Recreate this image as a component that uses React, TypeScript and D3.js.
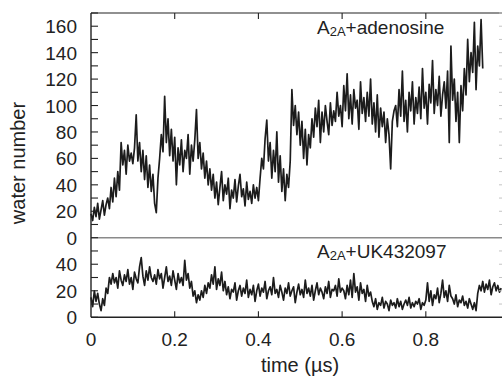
import React, { useEffect, useRef } from "react";
import * as d3 from "d3";

// time step between samples (µs)
const timeStep = 0.004;

// A2A+adenosine water count, one value per time step
const adenosineWater = [
  18, 13, 23, 16, 26, 14, 21, 28, 17, 25,
  30, 22, 38, 27, 45, 31, 50, 36,
  72, 55, 66, 48, 70, 58, 64,
  56, 68, 93, 58, 72, 50, 66,
  44, 62, 38, 55,
  35, 48, 26, 19,
  45, 60, 78, 65, 107,
  72, 90, 62, 82, 58, 76,
  40, 68, 55, 74, 50, 66,
  60, 78, 48, 70, 58,
  74, 97, 60, 72, 52,
  64, 45, 58, 40, 52, 36,
  48, 30, 42, 25, 38, 50, 28, 40, 33, 45, 22, 36, 30, 44, 27, 39, 48, 31, 37, 24, 42, 29, 35, 26, 40, 30, 38, 28,
  45, 60, 52, 75, 89,
  58, 72, 45, 66, 50, 80, 42, 62,
  35, 52, 28, 48, 38, 58,
  112, 85, 100, 78, 95,
  70, 88, 60, 82, 55, 78, 68, 90,
  76, 98, 84, 104, 72, 95, 80, 100, 88, 78, 102, 85, 96,
  88, 110, 92, 100, 84, 115, 96, 124, 90, 108, 86, 112, 98, 104, 82, 118, 94, 106, 88, 110,
  92, 120, 86, 102, 80, 108, 76, 98, 84, 95, 72, 90, 78,
  52, 88, 96,
  100, 84, 112, 92, 126, 88, 104, 80, 110, 96, 118, 86, 106, 94, 114,
  90, 128, 98, 110, 86, 116, 102, 134, 94, 112, 100, 122, 92, 108,
  118, 98, 126, 72, 145, 104, 120, 88, 110,
  72, 115, 96, 128, 108,
  150, 118, 140, 125, 163, 112, 145, 130, 165, 128,
];

// A2A+UK432097 water count
const ukWater = [
  15, 8, 20, 12, 18, 10,
  5, 14, 9,
  22, 18, 30, 25,
  33, 26, 30, 22, 35, 28, 24, 32, 27, 36, 25, 30, 21, 34, 29, 26, 38, 45, 31, 24,
  35, 28, 38, 30, 27,
  32, 25, 36, 29, 33, 22, 30, 38, 27, 31, 24, 35, 28, 21, 33, 26, 30, 24,
  43,
  28, 33, 22, 27,
  16, 20, 11, 17, 13,
  20, 15, 24, 18, 26,
  22, 32, 25, 38, 21, 29, 24, 34, 20, 27,
  17, 23, 14, 21, 19, 26, 13, 20, 24, 16,
  22, 18, 28, 15, 21, 17, 24, 12, 20, 25,
  16, 22, 19, 27, 14, 20, 23, 17, 30, 18,
  21, 15, 24, 19, 13, 22, 18, 26, 16, 20,
  23, 11, 19, 25, 17, 21, 15, 28, 18, 22,
  16, 24, 13, 20, 26, 17, 22, 19, 14, 23,
  18, 27, 15, 21, 20, 24, 16, 29, 19, 22,
  20, 14, 24, 17, 28, 15, 33, 19, 23, 13, 26, 18, 21, 12, 24, 16, 19,
  12, 8, 14, 6, 11, 9, 15, 7, 12, 10, 5, 13, 9, 11, 7, 14, 8, 12, 6, 10,
  13, 9, 15, 7, 11, 8, 12, 10, 14, 6, 11, 9, 13,
  26, 12, 20, 9, 17, 14, 22, 11, 18, 28, 15, 20, 12, 24, 16,
  14, 10, 17, 8, 13, 11, 16, 9, 12, 7, 14, 10, 6, 11, 5,
  18, 24, 20, 27, 19, 25, 21, 28, 17, 23, 26, 20, 24, 19, 22,
];

const xTicks = [0, 0.2, 0.4, 0.6, 0.8];
const topTicks = d3.range(0, 171, 10);
const topLabels = [0, 20, 40, 60, 80, 100, 120, 140, 160];
const bottomTicks = [0, 10, 20, 30, 40, 50];
const bottomLabels = [0, 20, 40];

const FONT = "'Liberation Sans', Arial, Helvetica, sans-serif";

export default function App() {
  const ref = useRef<SVGSVGElement | null>(null);

  useEffect(() => {
    const svg = d3.select(ref.current);
    svg.selectAll("*").remove();

    const left = 91, right = 502, top = 13, mid = 237.7, bottom = 317.3;

    const x = d3.scaleLinear().domain([0, 0.982]).range([left, right]);
    const yTop = d3.scaleLinear().domain([0, 170]).range([mid, top]);
    const yBot = d3.scaleLinear().domain([0, 60]).range([bottom, mid]);

    // series lines
    const lineTop = d3.line<number>()
      .x((d, i) => x(i * timeStep))
      .y(d => yTop(d));
    const lineBot = d3.line<number>()
      .x((d, i) => x(i * timeStep))
      .y(d => yBot(d));

    svg.append("path")
      .attr("d", lineTop(adenosineWater))
      .attr("fill", "none")
      .attr("stroke", "#1c1c1c")
      .attr("stroke-width", 1.7)
      .attr("stroke-linejoin", "round");
    svg.append("path")
      .attr("d", lineBot(ukWater))
      .attr("fill", "none")
      .attr("stroke", "#1c1c1c")
      .attr("stroke-width", 1.7)
      .attr("stroke-linejoin", "round");

    // gray divider between panels
    svg.append("line")
      .attr("x1", left).attr("x2", right)
      .attr("y1", mid).attr("y2", mid)
      .attr("stroke", "#8a8a8a").attr("stroke-width", 1.6);

    // frame
    svg.append("line").attr("x1", left).attr("x2", left).attr("y1", top).attr("y2", bottom)
      .attr("stroke", "#222").attr("stroke-width", 1.4);
    svg.append("line").attr("x1", left).attr("x2", right).attr("y1", bottom).attr("y2", bottom)
      .attr("stroke", "#222").attr("stroke-width", 1.4);
    svg.append("line").attr("x1", left).attr("x2", right).attr("y1", top).attr("y2", top)
      .attr("stroke", "#222").attr("stroke-width", 1.2);

    // left ticks (inward)
    svg.selectAll(".tt").data(topTicks).join("line")
      .attr("x1", left).attr("x2", left + 7)
      .attr("y1", d => yTop(d)).attr("y2", d => yTop(d))
      .attr("stroke", "#222").attr("stroke-width", 1.1);
    svg.selectAll(".bt").data(bottomTicks).join("line")
      .attr("x1", left).attr("x2", left + 7)
      .attr("y1", d => yBot(d)).attr("y2", d => yBot(d))
      .attr("stroke", "#222").attr("stroke-width", 1.1);

    // right ticks, faint
    svg.selectAll(".rt").data(topTicks.slice(1)).join("line")
      .attr("x1", right - 3).attr("x2", right)
      .attr("y1", d => yTop(d)).attr("y2", d => yTop(d))
      .attr("stroke", "#c4c4c4").attr("stroke-width", 1);
    svg.selectAll(".rb").data(bottomTicks.slice(1)).join("line")
      .attr("x1", right - 3).attr("x2", right)
      .attr("y1", d => yBot(d)).attr("y2", d => yBot(d))
      .attr("stroke", "#c4c4c4").attr("stroke-width", 1);

    // x ticks bottom and top
    svg.selectAll(".xb").data(xTicks.slice(1)).join("line")
      .attr("x1", d => x(d)).attr("x2", d => x(d))
      .attr("y1", bottom).attr("y2", bottom - 6)
      .attr("stroke", "#222").attr("stroke-width", 1.1);
    svg.selectAll(".xt").data(xTicks.slice(1)).join("line")
      .attr("x1", d => x(d)).attr("x2", d => x(d))
      .attr("y1", top).attr("y2", top + 6)
      .attr("stroke", "#222").attr("stroke-width", 1.1);

    // tick labels
    svg.selectAll(".tl").data(topLabels).join("text")
      .attr("x", left - 14).attr("y", d => yTop(d) + 7)
      .attr("text-anchor", "end")
      .style("font-family", FONT).style("font-size", "19px").style("fill", "#222")
      .text(d => d);
    svg.selectAll(".bl").data(bottomLabels).join("text")
      .attr("x", left - 14).attr("y", d => yBot(d) + 7)
      .attr("text-anchor", "end")
      .style("font-family", FONT).style("font-size", "19px").style("fill", "#222")
      .text(d => d);
    svg.selectAll(".xl").data(xTicks).join("text")
      .attr("x", d => x(d)).attr("y", 346)
      .attr("text-anchor", "middle")
      .style("font-family", FONT).style("font-size", "19px").style("fill", "#222")
      .text(d => (d === 0 ? "0" : d.toFixed(1)));

    // axis titles
    svg.append("text")
      .attr("x", 300).attr("y", 372)
      .attr("text-anchor", "middle")
      .style("font-family", FONT).style("font-size", "20px").style("fill", "#222")
      .text("time (µs)");
    svg.append("text")
      .attr("transform", "translate(25,163) rotate(-90)")
      .attr("text-anchor", "middle")
      .style("font-family", FONT).style("font-size", "20px").style("fill", "#222")
      .text("water number");

    // panel labels
    const lab1 = svg.append("text")
      .attr("x", 317).attr("y", 34.3)
      .style("font-family", FONT).style("font-size", "19px").style("fill", "#222");
    lab1.append("tspan").text("A");
    lab1.append("tspan").attr("dy", 2).style("font-size", "13px").text("2A");
    lab1.append("tspan").attr("dy", -2).text("+adenosine");

    const lab2 = svg.append("text")
      .attr("x", 317).attr("y", 257.5)
      .style("font-family", FONT).style("font-size", "19px").style("fill", "#222");
    lab2.append("tspan").text("A");
    lab2.append("tspan").attr("dy", 2).style("font-size", "13px").text("2A");
    lab2.append("tspan").attr("dy", -2).text("+UK432097");
  }, []);

  return (
    <svg
      ref={ref}
      width={503}
      height={379}
      style={{ position: "absolute", left: 0, top: 0, background: "#fff" }}
    />
  );
}
